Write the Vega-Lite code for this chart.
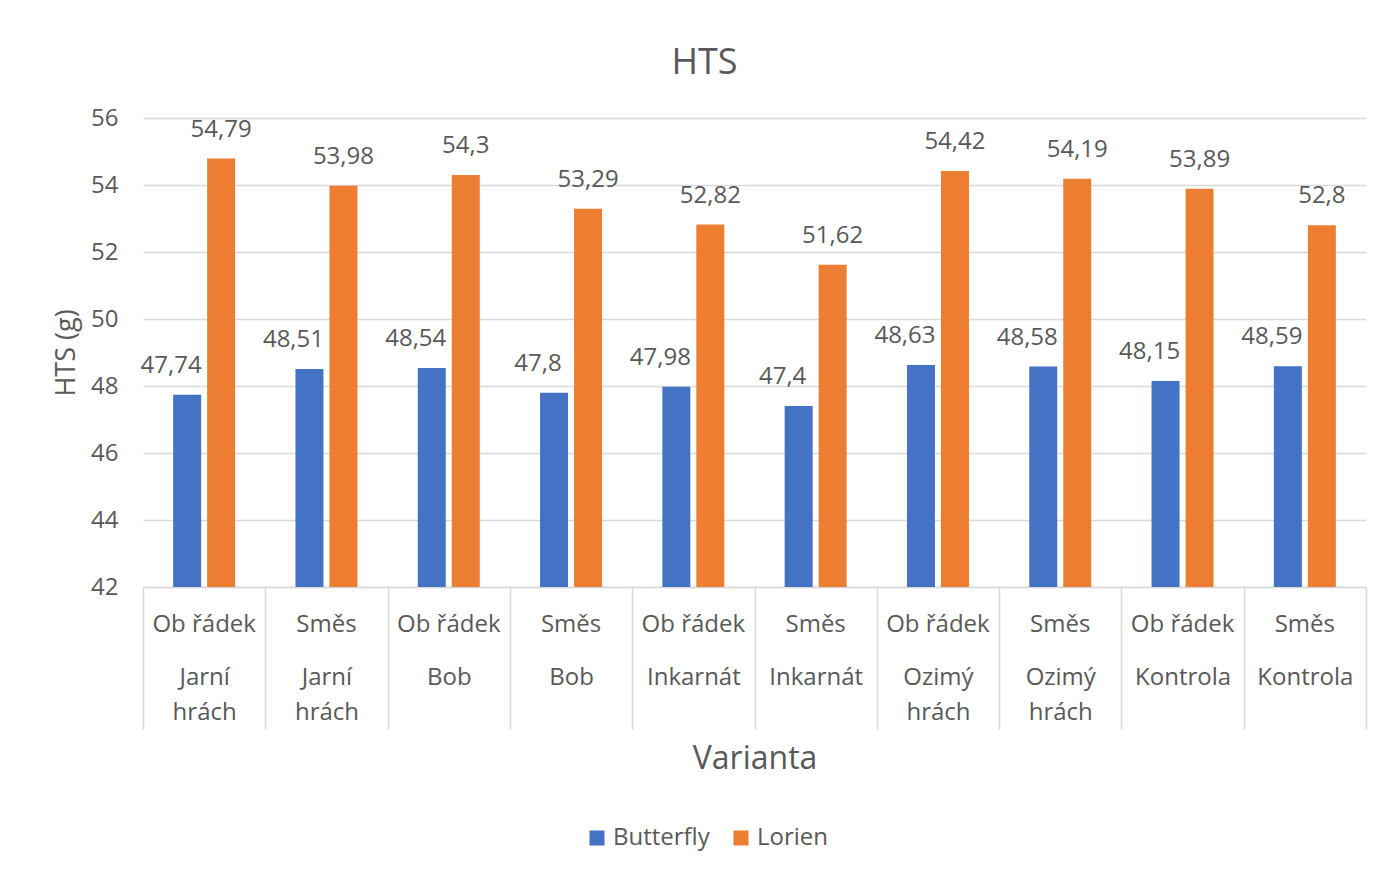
{
  "$schema": "https://vega.github.io/schema/vega-lite/v6.json",
  "width": 1223,
  "height": 469,
  "autosize": {"type": "none"},
  "padding": {"left": 143, "top": 118, "right": 21, "bottom": 284},
  "background": "white",
  "config": {
    "font": "Open Sans",
    "view": {"stroke": null},
    "locale": {"number": {"decimal": ",", "thousands": " ", "grouping": [3], "currency": ["", " Kč"]}}
  },
  "title": {
    "text": "HTS",
    "fontSize": 36,
    "fontWeight": "normal",
    "color": "#595959",
    "frame": "group",
    "anchor": "middle",
    "baseline": "alphabetic",
    "offset": -4,
    "dx": -50
  },
  "data": {
    "values": [
      {"k": "Ob řádek|Jarní hrách", "series": "Butterfly", "v": 47.74},
      {"k": "Ob řádek|Jarní hrách", "series": "Lorien", "v": 54.79},
      {"k": "Směs|Jarní hrách", "series": "Butterfly", "v": 48.51},
      {"k": "Směs|Jarní hrách", "series": "Lorien", "v": 53.98},
      {"k": "Ob řádek|Bob", "series": "Butterfly", "v": 48.54},
      {"k": "Ob řádek|Bob", "series": "Lorien", "v": 54.3},
      {"k": "Směs|Bob", "series": "Butterfly", "v": 47.8},
      {"k": "Směs|Bob", "series": "Lorien", "v": 53.29},
      {"k": "Ob řádek|Inkarnát", "series": "Butterfly", "v": 47.98},
      {"k": "Ob řádek|Inkarnát", "series": "Lorien", "v": 52.82},
      {"k": "Směs|Inkarnát", "series": "Butterfly", "v": 47.4},
      {"k": "Směs|Inkarnát", "series": "Lorien", "v": 51.62},
      {"k": "Ob řádek|Ozimý hrách", "series": "Butterfly", "v": 48.63},
      {"k": "Ob řádek|Ozimý hrách", "series": "Lorien", "v": 54.42},
      {"k": "Směs|Ozimý hrách", "series": "Butterfly", "v": 48.58},
      {"k": "Směs|Ozimý hrách", "series": "Lorien", "v": 54.19},
      {"k": "Ob řádek|Kontrola", "series": "Butterfly", "v": 48.15},
      {"k": "Ob řádek|Kontrola", "series": "Lorien", "v": 53.89},
      {"k": "Směs|Kontrola", "series": "Butterfly", "v": 48.59},
      {"k": "Směs|Kontrola", "series": "Lorien", "v": 52.8}
    ]
  },
  "encoding": {
    "xOffset": {
      "field": "series",
      "type": "nominal",
      "sort": ["Butterfly", "Lorien"],
      "scale": {"paddingInner": 0.1765, "paddingOuter": 0.887}
    },
    "y": {
      "field": "v",
      "type": "quantitative",
      "scale": {"domain": [42, 56], "nice": false, "zero": false},
      "axis": {
        "values": [42, 44, 46, 48, 50, 52, 54, 56],
        "title": "HTS (g)",
        "titleFontSize": 27,
        "titleFontWeight": "normal",
        "titleColor": "#595959",
        "titlePadding": 10,
        "labelFontSize": 24,
        "labelColor": "#595959",
        "labelPadding": 25,
        "domain": false,
        "ticks": false,
        "grid": true,
        "gridColor": "#D9D9D9",
        "gridWidth": 1.5
      }
    }
  },
  "layer": [
    {
      "mark": {"type": "bar"},
      "encoding": {
        "x": {
          "field": "k",
          "type": "nominal",
          "sort": null,
          "scale": {"paddingInner": 0, "paddingOuter": 0},
          "axis": {
            "orient": "bottom",
            "title": null,
            "labelExpr": "split(datum.label, '|')[0]",
            "labelFontSize": 24,
            "labelColor": "#595959",
            "labelPadding": 25,
            "labelAngle": 0,
            "labelOverlap": false,
            "labelBound": false,
            "ticks": false,
            "domain": true,
            "domainColor": "#D9D9D9",
            "domainWidth": 1.5,
            "grid": false
          }
        },
        "y2": {"datum": 42},
        "color": {
          "field": "series",
          "type": "nominal",
          "sort": ["Butterfly", "Lorien"],
          "scale": {"domain": ["Butterfly", "Lorien"], "range": ["#4472C4", "#ED7D31"]},
          "legend": {
            "title": null,
            "orient": "none",
            "direction": "horizontal",
            "legendX": 442,
            "legendY": 708,
            "symbolType": "square",
            "symbolSize": 225,
            "symbolStrokeWidth": 0,
            "labelFontSize": 24,
            "labelColor": "#595959",
            "labelOffset": 4,
            "columnPadding": 19
          }
        }
      }
    },
    {
      "transform": [{"filter": "datum.series === 'Lorien'"}],
      "mark": {"type": "text", "fontSize": 24, "color": "#595959", "baseline": "alphabetic", "align": "center", "dy": -22},
      "encoding": {
        "x": {
          "field": "k",
          "type": "nominal",
          "sort": null,
          "axis": {
            "orient": "bottom",
            "title": "Varianta",
            "titleFontSize": 32,
            "titleFontWeight": "normal",
            "titleColor": "#595959",
            "titlePadding": 14,
            "labelExpr": "datum.label ? split(split(datum.label, '|')[1], ' ') : ''",
            "labelFontSize": 24,
            "labelColor": "#595959",
            "labelLineHeight": 35,
            "labelPadding": -64,
            "labelAngle": 0,
            "labelOverlap": false,
            "labelBound": false,
            "ticks": true,
            "tickBand": "extent",
            "tickSize": 142,
            "tickColor": "#D9D9D9",
            "tickWidth": 1.5,
            "domain": false,
            "grid": false
          }
        },
        "text": {"field": "v", "type": "quantitative", "format": ".2~f"}
      }
    },
    {
      "transform": [{"filter": "datum.series === 'Butterfly'"}],
      "mark": {"type": "text", "fontSize": 24, "color": "#595959", "baseline": "alphabetic", "align": "center", "dy": -22, "dx": -16},
      "encoding": {
        "x": {"field": "k", "type": "nominal", "sort": null, "axis": null},
        "text": {"field": "v", "type": "quantitative", "format": ".2~f"}
      }
    }
  ],
  "resolve": {"axis": {"x": "independent"}}
}
